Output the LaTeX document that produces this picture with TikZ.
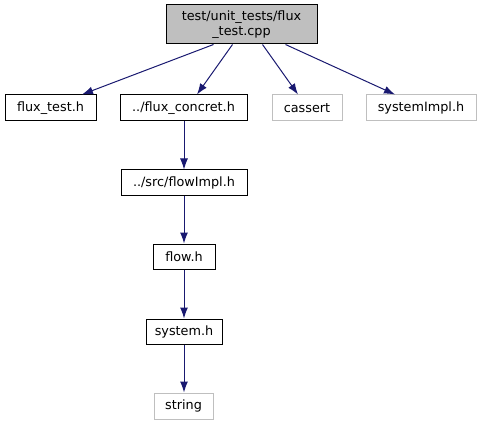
\documentclass[tikz,border=0pt]{standalone}
\usepackage{fontspec}
\setmainfont{DejaVu Sans}
\usetikzlibrary{arrows.meta}
\definecolor{edgec}{HTML}{191970}
\definecolor{graybox}{HTML}{BFBFBF}
\tikzset{
  box/.style={draw=black, line width=1pt, fill=white, inner sep=0pt, font=\fontsize{12.8}{15}\selectfont, align=center},
  extbox/.style={box, draw=graybox},
  edge/.style={draw=edgec, line width=1pt, -{Latex[length=11pt,width=8pt]}}
}
\newcommand{\bx}[6]{\node[#1, minimum width=#4pt-#2pt, minimum height=#5pt-#3pt] (#6) at ({(#2+#4)/2},{(#3+#5)/2})}
\begin{document}
\begin{tikzpicture}[x=1pt,y=-1pt]
\useasboundingbox (0,0) rectangle (482,425);
\bx{box, fill=graybox}{166}{5}{317}{44}{top} {test/unit\_tests/flux\\\_test.cpp};
\bx{box}{5}{95}{96}{121}{ft} {flux\_test.h};
\bx{box}{120}{95}{247}{121}{fc} {../flux\_concret.h};
\bx{extbox}{272}{95}{342}{121}{ca} {cassert};
\bx{extbox}{366}{95}{476}{121}{si} {systemImpl.h};
\bx{box}{121}{170}{247}{195}{fi} {../src/flowImpl.h};
\bx{box}{153}{244}{215}{269}{fl} {flow.h};
\bx{box}{146}{319}{222}{344}{sy} {system.h};
\bx{extbox}{154}{393}{213}{419}{st} {string};
\draw[edge] ([xshift=-28pt]top.south) -- (ft.north -| 82,0);
\draw[edge] ([xshift=-9pt]top.south) -- (fc.north -| 197,0);
\draw[edge] ([xshift=21pt]top.south) -- (ca.north -| 298,0);
\draw[edge] ([xshift=44pt]top.south) -- (si.north -| 395,0);
\draw[edge] (fc.south -| 184,0) -- (fi.north -| 184,0);
\draw[edge] (fi.south -| 184,0) -- (fl.north -| 184,0);
\draw[edge] (fl.south -| 184,0) -- (sy.north -| 184,0);
\draw[edge] (sy.south -| 184,0) -- (st.north -| 184,0);
\end{tikzpicture}
\end{document}
